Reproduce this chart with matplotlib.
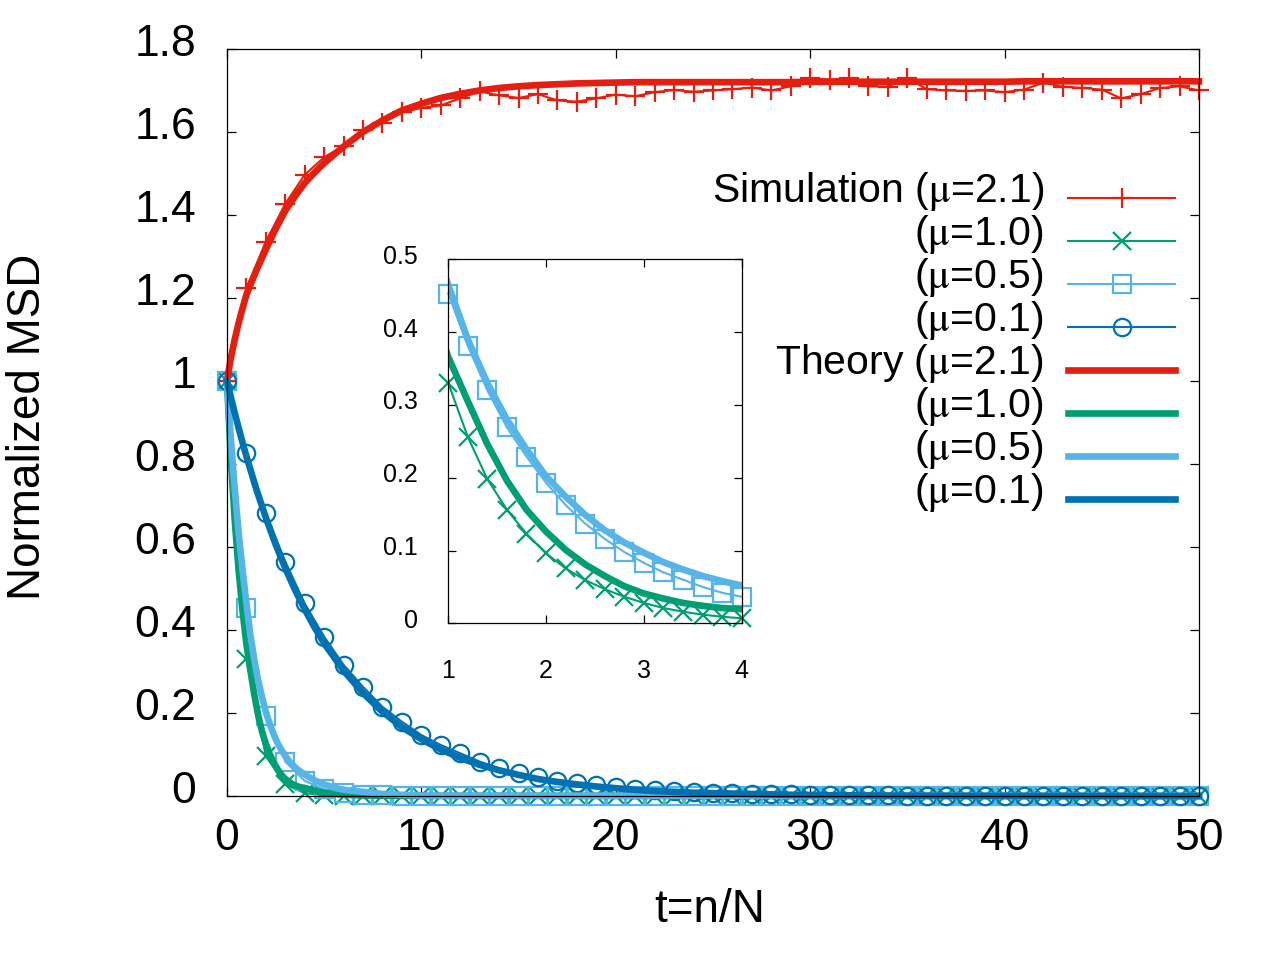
import numpy as np
import matplotlib
matplotlib.use('Agg')
import matplotlib.pyplot as plt
from matplotlib.transforms import ScaledTranslation

plt.rcParams['font.family'] = ['Liberation Sans', 'DejaVu Sans']
plt.rcParams['mathtext.fontset'] = 'stix'

# ---------------- data ----------------
# simulation, main panel (t = 0..50)
t_sim = list(range(0, 51))
sim_mu21 = [1.0, 1.223, 1.336, 1.427, 1.497, 1.539, 1.567, 1.604, 1.622, 1.647,
            1.658, 1.664, 1.681, 1.698, 1.688, 1.682, 1.691, 1.676, 1.673, 1.681,
            1.690, 1.686, 1.696, 1.701, 1.697, 1.700, 1.703, 1.707, 1.700, 1.710,
            1.730, 1.726, 1.730, 1.710, 1.709, 1.730, 1.703, 1.700, 1.699, 1.700,
            1.696, 1.702, 1.719, 1.709, 1.706, 1.702, 1.681, 1.691, 1.706, 1.710,
            1.700]
sim_mu10 = [1.0, 0.330, 0.096, 0.028, 0.007, 0.002, 0.001, 0.0, 0.0, 0.0,
            0.0, 0.0, 0.0, 0.0, 0.0, 0.0, 0.0, 0.0, 0.0, 0.0,
            0.0, 0.0, 0.0, 0.0, 0.0, 0.0, 0.0, 0.0, 0.0, 0.0,
            0.0, 0.0, 0.0, 0.0, 0.0, 0.0, 0.0, 0.0, 0.0, 0.0,
            0.0, 0.0, 0.0, 0.0, 0.0, 0.0, 0.0, 0.0, 0.0, 0.0,
            0.0]
sim_mu05 = [1.0, 0.453, 0.193, 0.083, 0.0365, 0.016, 0.007, 0.003, 0.0015, 0.001,
            0.0, 0.0, 0.0, 0.0, 0.0, 0.0, 0.0, 0.0, 0.0, 0.0,
            0.0, 0.0, 0.0, 0.0, 0.0, 0.0, 0.0, 0.0, 0.0, 0.0,
            0.0, 0.0, 0.0, 0.0, 0.0, 0.0, 0.0, 0.0, 0.0, 0.0,
            0.0, 0.0, 0.0, 0.0, 0.0, 0.0, 0.0, 0.0, 0.0, 0.0,
            0.0]
sim_mu01 = [1.0, 0.826, 0.681, 0.565, 0.464, 0.384, 0.316, 0.263, 0.215, 0.179,
            0.147, 0.123, 0.103, 0.083, 0.067, 0.055, 0.045, 0.037, 0.031, 0.026,
            0.022, 0.018, 0.015, 0.012, 0.010, 0.008, 0.007, 0.006, 0.005, 0.004,
            0.003, 0.003, 0.002, 0.002, 0.002, 0.001, 0.001, 0.001, 0.001, 0.0,
            0.0, 0.0, 0.0, 0.0, 0.0, 0.0, 0.0, 0.0, 0.0, 0.0,
            0.0]

# simulation, inset (t = 1.0..4.0 step 0.2)
t_ins = [1.0, 1.2, 1.4, 1.6, 1.8, 2.0, 2.2, 2.4, 2.6, 2.8, 3.0, 3.2, 3.4, 3.6, 3.8, 4.0]
ins_mu10 = [0.330, 0.256, 0.198, 0.156, 0.123, 0.096, 0.0755, 0.0595, 0.047, 0.0365,
            0.028, 0.021, 0.016, 0.012, 0.009, 0.007]
ins_mu05 = [0.453, 0.381, 0.320, 0.269, 0.229, 0.193, 0.1625, 0.137, 0.116, 0.098,
            0.083, 0.070, 0.060, 0.050, 0.042, 0.0365]

# theory, slowly varying curves
t_slow = [0, 0.2, 0.4, 0.6, 0.8, 1, 1.5, 2, 2.5, 3, 3.5, 4, 4.5, 5] + list(range(6, 51))
th_mu21 = [1.0, 1.055, 1.10, 1.14, 1.175, 1.208, 1.265, 1.317, 1.366, 1.410, 1.445, 1.477, 1.502, 1.525,
           1.565, 1.600, 1.628, 1.652, 1.668, 1.682, 1.692, 1.700, 1.706, 1.710,
           1.713, 1.715, 1.717, 1.718, 1.719, 1.720, 1.720, 1.720, 1.720, 1.720,
           1.720, 1.720, 1.720, 1.720, 1.721, 1.721, 1.721, 1.721, 1.721, 1.721,
           1.721, 1.721, 1.721, 1.721, 1.721, 1.722, 1.722, 1.722, 1.722, 1.722,
           1.722, 1.722, 1.722, 1.722, 1.722]
th_mu01 = [1.0, 0.961, 0.923, 0.887, 0.852, 0.819, 0.741, 0.671, 0.607, 0.549, 0.497, 0.450, 0.407, 0.368,
           0.302, 0.248, 0.203, 0.166, 0.137, 0.112, 0.092, 0.075, 0.062, 0.051,
           0.041, 0.034, 0.028, 0.023, 0.019, 0.015, 0.012, 0.010, 0.008, 0.007,
           0.006, 0.005, 0.004, 0.003, 0.0025, 0.002, 0.0017, 0.0014, 0.0011, 0.0009,
           0.0007, 0.0006, 0.0005, 0.0004, 0.0003, 0.0003, 0.0002, 0.0002, 0.0002, 0.0001,
           0.0001, 0.0001, 0.0001, 0.0, 0.0]

# theory, fast decaying curves
t_fast = [0.0, 0.2, 0.4, 0.6, 0.8, 1.0, 1.2, 1.4, 1.6, 1.8, 2.0, 2.2, 2.4, 2.6, 2.8,
          3.0, 3.2, 3.4, 3.6, 3.8, 4.0, 4.2, 4.4, 4.6, 4.8, 5.0, 5.2, 5.4, 5.6, 5.8,
          6.0, 7.0, 8.0, 10.0, 50.0]
th_mu10 = [1.0, 0.815, 0.665, 0.545, 0.447, 0.366, 0.305, 0.246, 0.196, 0.156, 0.126, 0.101, 0.081, 0.065, 0.051,
           0.041, 0.034, 0.028, 0.024, 0.021, 0.0195, 0.017, 0.014, 0.012, 0.010, 0.008, 0.007, 0.006, 0.005, 0.004,
           0.003, 0.0015, 0.0007, 0.0002, 0.0]
th_mu05 = [1.0, 0.86, 0.74, 0.635, 0.545, 0.465, 0.390, 0.330, 0.280, 0.239, 0.202, 0.174, 0.149, 0.128, 0.111,
           0.097, 0.084, 0.074, 0.065, 0.058, 0.052, 0.046, 0.041, 0.036, 0.032, 0.028, 0.025, 0.022, 0.019, 0.017,
           0.015, 0.010, 0.005, 0.001, 0.0]

labels_sim = [r'Simulation ($\mathrm{\mu}$=2.1)', r'($\mathrm{\mu}$=1.0)',
              r'($\mathrm{\mu}$=0.5)', r'($\mathrm{\mu}$=0.1)']
labels_th = [r'Theory ($\mathrm{\mu}$=2.1)', r'($\mathrm{\mu}$=1.0)',
             r'($\mathrm{\mu}$=0.5)', r'($\mathrm{\mu}$=0.1)']

RED = '#e51e10'
GREEN = '#009e73'
LBLUE = '#56b4e9'
DBLUE = '#0072b2'

# ---------------- figure ----------------
fig = plt.figure(figsize=(12.8, 9.6), dpi=100)
ax = fig.add_axes([0.1773, 0.1708, 0.7594, 0.7782])

sim_lw = 1.5
th_lw = 4.8
h = []
h += ax.plot(t_sim, sim_mu21, color=RED, lw=sim_lw, marker='+', ms=15, mew=1.6, clip_on=False, label=labels_sim[0])
h += ax.plot(t_sim, sim_mu10, color=GREEN, lw=sim_lw, marker='x', ms=13, mew=1.6, clip_on=False, label=labels_sim[1])
h += ax.plot(t_sim, sim_mu05, color=LBLUE, lw=sim_lw, marker='s', ms=13, mew=1.6, mfc='none', clip_on=False, label=labels_sim[2])
h += ax.plot(t_sim, sim_mu01, color=DBLUE, lw=sim_lw, marker='o', ms=12.5, mew=1.6, mfc='none', clip_on=False, label=labels_sim[3])
h += ax.plot(t_slow, th_mu21, color=RED, lw=th_lw, clip_on=False, label=labels_th[0])
h += ax.plot(t_fast, th_mu10, color=GREEN, lw=th_lw, clip_on=False, label=labels_th[1])
h += ax.plot(t_fast, th_mu05, color=LBLUE, lw=th_lw, clip_on=False, label=labels_th[2])
h += ax.plot(t_slow, th_mu01, color=DBLUE, lw=th_lw, clip_on=False, label=labels_th[3])

ax.set_xlim(0, 50)
ax.set_ylim(0, 1.8)
ax.set_xticks([0, 10, 20, 30, 40, 50])
ax.set_yticks([0, 0.2, 0.4, 0.6, 0.8, 1.0, 1.2, 1.4, 1.6, 1.8])
ax.set_yticklabels(['0', '0.2', '0.4', '0.6', '0.8', '1', '1.2', '1.4', '1.6', '1.8'])
ax.tick_params(direction='in', length=6.5, width=0.9, top=True, right=True, labelsize=32)
ax.tick_params(axis='y', pad=22)
ax.tick_params(axis='x', pad=16)
for s in ax.spines.values():
    s.set_linewidth(0.9)
up9 = ScaledTranslation(0, 0.09, fig.dpi_scale_trans)
for lab in ax.get_yticklabels():
    lab.set_transform(lab.get_transform() + up9)

fig.text(0.0219, 0.555, 'Normalized MSD', rotation=90, ha='center', va='center', fontsize=33)
fig.text(0.5547, 0.052, 't=n/N', ha='center', va='center', fontsize=33)

leg = ax.legend(h, [l.get_label() for l in h], loc='upper right', bbox_to_anchor=(0.9753, 0.8246),
                markerfirst=False, frameon=False, fontsize=29.5, handlelength=2.6,
                handletextpad=0.6, labelspacing=0.0, borderpad=0, borderaxespad=0)
up10 = ScaledTranslation(0, 0.10, fig.dpi_scale_trans)
for txt in leg.get_texts():
    txt.set_transform(txt.get_transform() + up10)

# ---------------- inset ----------------
axi = fig.add_axes([0.3502, 0.3507, 0.2292, 0.3792])
axi.plot(t_ins, ins_mu10, color=GREEN, lw=sim_lw, marker='x', ms=13, mew=1.6, clip_on=False)
axi.plot(t_ins, ins_mu05, color=LBLUE, lw=sim_lw, marker='s', ms=13, mew=1.6, mfc='none', clip_on=False)
axi.plot(t_fast, th_mu10, color=GREEN, lw=th_lw)
axi.plot(t_fast, th_mu05, color=LBLUE, lw=th_lw)
axi.set_xlim(1, 4)
axi.set_ylim(0, 0.5)
axi.set_xticks([1, 2, 3, 4])
axi.set_xticklabels(['1', '2', '3', '4'])
axi.set_yticks([0, 0.1, 0.2, 0.3, 0.4, 0.5])
axi.set_yticklabels(['0', '0.1', '0.2', '0.3', '0.4', '0.5'])
axi.tick_params(direction='in', length=6, width=0.9, top=True, right=True, labelsize=18)
axi.tick_params(axis='y', pad=22)
axi.tick_params(axis='x', pad=26)
for s in axi.spines.values():
    s.set_linewidth(0.9)
up5 = ScaledTranslation(0, 0.05, fig.dpi_scale_trans)
for lab in axi.get_yticklabels():
    lab.set_transform(lab.get_transform() + up5)

fig.savefig('out.png', dpi=100)
